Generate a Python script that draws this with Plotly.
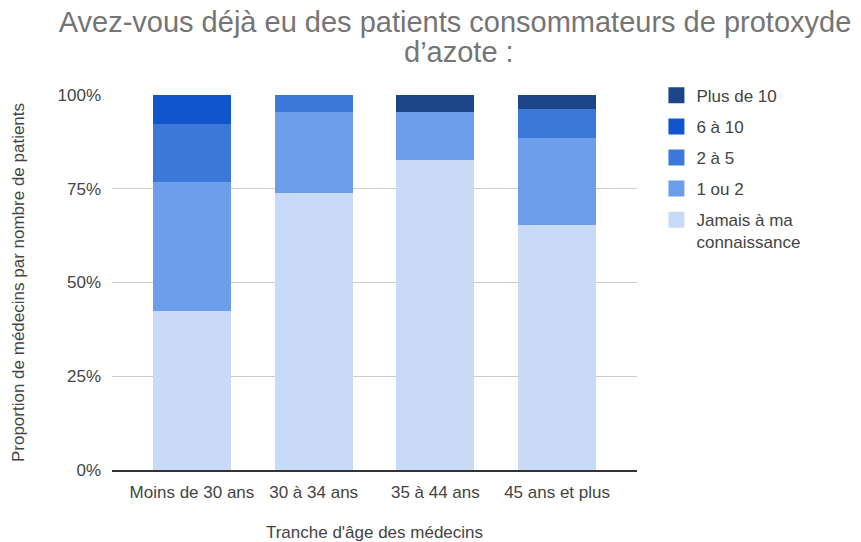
import plotly.graph_objects as go

categories = ["Moins de 30 ans", "30 à 34 ans", "35 à 44 ans", "45 ans et plus"]
series_names = ["Jamais à ma<br>connaissance", "1 ou 2", "2 à 5", "6 à 10", "Plus de 10"]
jamais = [0.423, 0.739, 0.826, 0.654]
un_ou_deux = [0.346, 0.217, 0.130, 0.231]
deux_a_cinq = [0.154, 0.044, 0.0, 0.077]
six_a_dix = [0.077, 0.0, 0.0, 0.0]
plus_de_dix = [0.0, 0.0, 0.044, 0.038]
colors = ["#c9daf8", "#6d9eeb", "#3c78d8", "#1155cc", "#1c4587"]
y_ticks = [0, 0.25, 0.5, 0.75, 1.0]
y_tick_labels = ["0%", "25%", "50%", "75%", "100%"]
title_line1 = "Avez-vous déjà eu des patients consommateurs de protoxyde"
title_line2 = "d’azote :"

values = [jamais, un_ou_deux, deux_a_cinq, six_a_dix, plus_de_dix]

fig = go.Figure()
for i, (name, vals, col) in enumerate(zip(series_names, values, colors)):
    fig.add_trace(go.Bar(
        x=categories, y=vals, name=name, marker_color=col,
        marker_line_width=0, legendgroup=f"g{i}", showlegend=False, width=0.64,
    ))
    # legend entry with a larger square swatch
    fig.add_trace(go.Scatter(
        x=[None], y=[None], mode="markers", name=name,
        marker=dict(symbol="square", size=16, color=col, line_width=0),
        legendgroup=f"g{i}", legendrank=100 - i, showlegend=True,
    ))

font_family = "Liberation Sans, Arial, sans-serif"
text_color = "#444444"
fig.update_layout(
    barmode="stack",
    width=861, height=542,
    margin=dict(l=112, r=224, t=95, b=72, autoexpand=False),
    paper_bgcolor="white", plot_bgcolor="white",
    font=dict(family=font_family, size=17, color=text_color),
    title=dict(
        text=title_line1,
        x=455 / 861, xanchor="center", y=1 - 22 / 542, yanchor="middle",
        font=dict(size=29, color="#757575", family=font_family),
    ),
    annotations=[dict(
        text=title_line2, xref="paper", yref="paper",
        x=(459 - 112) / 525, y=(470 - 52) / 375, xanchor="center", yanchor="middle",
        showarrow=False, font=dict(size=29, color="#757575", family=font_family),
    )],
    legend=dict(
        x=1.037, y=1.046, xanchor="left", yanchor="top",
        traceorder="grouped", tracegroupgap=6, valign="top",
        font=dict(size=17, color=text_color),
        bgcolor="rgba(0,0,0,0)",
    ),
    xaxis=dict(
        range=[-0.657, 3.657], automargin=False,
        showline=True, linecolor="#333333", linewidth=1.5,
        showgrid=False, ticks="", ticklabelstandoff=6,
        tickfont=dict(size=17, color=text_color),
        title=dict(text="Tranche d'âge des médecins", standoff=29,
                   font=dict(size=17, color=text_color)),
    ),
    yaxis=dict(
        range=[0, 1], automargin=False,
        tickvals=y_ticks, ticktext=y_tick_labels,
        showgrid=True, gridcolor="#cccccc", gridwidth=1,
        zeroline=False, ticks="", ticklabelstandoff=10,
        tickfont=dict(size=17, color=text_color),
        title=dict(text="Proportion de médecins par nombre de patients", standoff=28,
                   font=dict(size=17, color=text_color)),
    ),
)

fig.write_html("out.html", config={"displayModeBar": False},
               post_script="document.body.style.margin='0';")
